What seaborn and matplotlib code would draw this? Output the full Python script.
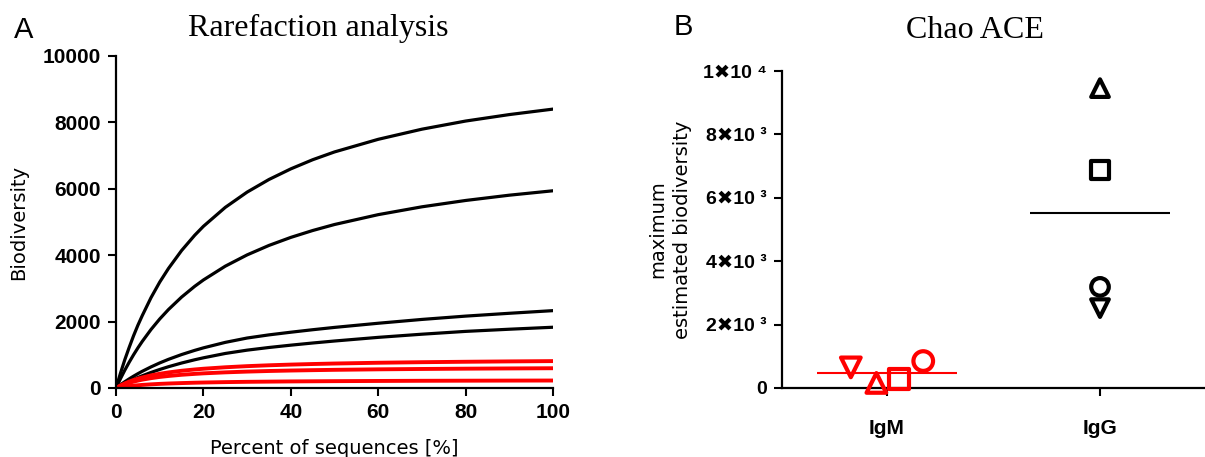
import matplotlib
matplotlib.use('Agg')
import matplotlib.pyplot as plt
import pandas as pd
import seaborn as sns

# rarefaction curves
pct = [0, 1, 2, 3, 4, 5, 6, 8, 10, 12, 15, 18, 20, 25, 30, 35, 40, 45, 50, 60, 70, 80, 90, 100]
igg_curves = {
    'IgG_1': [0, 440, 850, 1220, 1570, 1890, 2180, 2720, 3190, 3600, 4140, 4600, 4870,
              5440, 5900, 6280, 6600, 6875, 7110, 7490, 7795, 8040, 8235, 8400],
    'IgG_2': [0, 277, 535, 774, 998, 1207, 1403, 1761, 2079, 2363, 2738, 3062, 3254,
              3669, 4009, 4294, 4536, 4743, 4924, 5221, 5457, 5648, 5807, 5940],
    'IgG_3': [0, 97, 188, 274, 355, 431, 503, 635, 755, 863, 1007, 1133, 1209,
              1374, 1505, 1600, 1680, 1755, 1825, 1950, 2065, 2165, 2250, 2330],
    'IgG_4': [0, 70, 136, 199, 259, 315, 368, 468, 558, 641, 752, 850, 909,
              1040, 1140, 1220, 1290, 1355, 1415, 1525, 1620, 1705, 1770, 1830],
}
igm_curves = {
    'IgM_1': [0, 75, 138, 193, 240, 281, 317, 379, 428, 469, 519, 558, 580,
              624, 658, 684, 705, 722, 737, 760, 777, 790, 801, 810],
    'IgM_2': [0, 62, 112, 155, 192, 223, 251, 296, 333, 362, 398, 425, 441,
              471, 494, 512, 526, 537, 547, 562, 573, 582, 589, 595],
    'IgM_3': [0, 22, 41, 57, 71, 82, 93, 110, 124, 135, 148, 159, 165,
              177, 186, 192, 198, 202, 206, 212, 217, 220, 223, 225],
}

# Chao ACE estimates
isotypes = ['IgM', 'IgG']
samples = ['S1', 'S2', 'S3', 'S4']
sample_markers = {'S1': 'v', 'S2': '^', 'S3': 's', 'S4': 'o'}
chao_igm = [650, 160, 280, 850]
chao_igg = [2520, 9460, 6880, 3190]
igm_offsets = [-0.17, -0.05, 0.055, 0.17]
igg_offsets = [0, 0, 0, 0]
chao_ticks = [0, 2000, 4000, 6000, 8000, 10000]
chao_ticklabels = ['0', '2✖10 ³', '4✖10 ³', '6✖10 ³', '8✖10 ³', '1✖10 ⁴']

sns.set_style('ticks')
plt.rcParams['font.family'] = ['Liberation Sans', 'DejaVu Sans']
plt.rcParams['text.color'] = 'black'
plt.rcParams['axes.labelcolor'] = 'black'

fig = plt.figure(figsize=(12.05, 4.57), dpi=100)
ax1 = fig.add_axes([0.0963, 0.151, 0.3626, 0.7265])
ax2 = fig.add_axes([0.649, 0.151, 0.351, 0.6936])

# ---- A: rarefaction
rows = []
for name, vals in igg_curves.items():
    for x, v in zip(pct, vals):
        rows.append((name, 'IgG', x, v))
for name, vals in igm_curves.items():
    for x, v in zip(pct, vals):
        rows.append((name, 'IgM', x, v))
rare = pd.DataFrame(rows, columns=['curve', 'isotype', 'pct', 'div'])

sns.lineplot(data=rare[rare.isotype == 'IgG'], x='pct', y='div', units='curve',
             estimator=None, color='black', lw=2.3, ax=ax1)
sns.lineplot(data=rare[rare.isotype == 'IgM'], x='pct', y='div', units='curve',
             estimator=None, color='#ff0000', lw=2.8, ax=ax1)

ax1.set_xlim(0, 100)
ax1.set_ylim(0, 10000)
ax1.set_xticks([0, 20, 40, 60, 80, 100])
ax1.set_yticks([0, 2000, 4000, 6000, 8000, 10000])
ax1.set_xlabel('Percent of sequences [%]', family='DejaVu Sans', fontsize=14, labelpad=12)
ax1.set_ylabel('Biodiversity', family='DejaVu Sans', fontsize=14, labelpad=10)

# ---- B: Chao ACE
chao = pd.DataFrame({
    'isotype': ['IgM'] * 4 + ['IgG'] * 4,
    'sample': samples * 2,
    'ace': chao_igm + chao_igg,
    'off': igm_offsets + igg_offsets,
})
chao['xpos'] = chao['isotype'].map({k: i for i, k in enumerate(isotypes)}) + chao['off']
colors = {'IgM': '#ff0000', 'IgG': 'black'}

for iso in isotypes:
    sub = chao[chao.isotype == iso]
    sns.scatterplot(data=sub, x='xpos', y='ace', style='sample', markers=sample_markers,
                    s=200 if iso == 'IgM' else 160, color=colors[iso], legend=False,
                    clip_on=False, zorder=3, ax=ax2)
    coll = ax2.collections[-1]
    coll.set_facecolor('none')
    coll.set_edgecolor(colors[iso])
    coll.set_linewidth(3)
    i = isotypes.index(iso)
    ax2.hlines(sub['ace'].mean(), i - 0.33, i + 0.33, color=colors[iso], lw=1.5)

ax2.set_xlim(-0.493, 1.493)
ax2.set_ylim(0, 10000)
ax2.set_xticks([0, 1])
ax2.set_xticklabels(isotypes)
ax2.set_yticks(chao_ticks)
ax2.set_yticklabels(chao_ticklabels)
ax2.set_xlabel('')
ax2.set_ylabel('maximum\nestimated biodiversity', family='DejaVu Sans', fontsize=14,
               labelpad=8, linespacing=1.4)

for ax in (ax1, ax2):
    sns.despine(ax=ax)
    for s in ('left', 'bottom'):
        ax.spines[s].set_linewidth(1.6)
        ax.spines[s].set_color('black')
    ax.tick_params(width=1.5, length=6, labelsize=15, colors='black', pad=5)
    for lab in ax.get_xticklabels() + ax.get_yticklabels():
        lab.set_fontweight('bold')
ax2.tick_params(axis='y', labelsize=14)
ax2.tick_params(axis='x', pad=16)

fig.text(0.264, 0.938, 'Rarefaction analysis', family='Liberation Serif', fontsize=23,
         ha='center', va='center')
fig.text(0.809, 0.934, 'Chao ACE', family='Liberation Serif', fontsize=23,
         ha='center', va='center')
fig.text(0.02, 0.935, 'A', fontsize=21, ha='center', va='center')
fig.text(0.567, 0.94, 'B', fontsize=21, ha='center', va='center')

fig.savefig('out.png', dpi=100)
